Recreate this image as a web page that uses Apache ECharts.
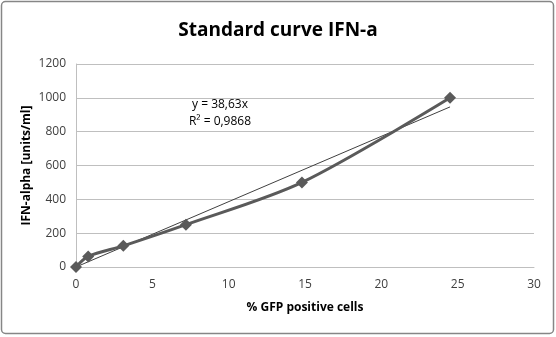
<!DOCTYPE html>
<html>
<head>
<meta charset="utf-8">
<script src="https://cdn.jsdelivr.net/npm/echarts@6/dist/echarts.min.js"></script>
<style>html,body{margin:0;padding:0;background:#fff}#c{width:556px;height:337px}</style>
</head>
<body>
<div id="c"></div>
<script>
var xValues = [0, 0.8, 3.1, 7.2, 14.8, 24.5];
var yValues = [0, 62.5, 125, 250, 500, 1000];
var trendSlope = 38.63;
var trendX = [0, 24.5];
var xTicks = [0, 5, 10, 15, 20, 25, 30];
var yTicks = [0, 200, 400, 600, 800, 1000, 1200];
var titleText = 'Standard curve IFN-a';
var xName = '% GFP positive cells';
var yName = 'IFN-alpha [units/ml]';
var eqLines = ['y = 38,63x', 'R\u00B2 = 0,9868'];

var dataPts = xValues.map(function (x, i) { return [x, yValues[i]]; });
var trendPts = trendX.map(function (x) { return [x, trendSlope * x]; });
var font = '"Open Sans", "Liberation Sans", sans-serif';

var chart = echarts.init(document.getElementById('c'), null, {renderer: 'canvas'});
chart.setOption({
  animation: false,
  backgroundColor: '#fff',
  title: {
    text: titleText, left: 'center', top: 16,
    textStyle: {fontFamily: font, fontWeight: 'bold', fontSize: 19, color: '#000'}
  },
  grid: {left: 76, right: 22, top: 64, bottom: 70},
  xAxis: {
    type: 'value', min: xTicks[0], max: xTicks[xTicks.length - 1], interval: 5,
    name: xName, nameLocation: 'middle', nameGap: 35, nameMoveOverlap: false,
    nameTextStyle: {fontFamily: font, fontWeight: 'bold', fontSize: 12, color: '#000'},
    axisLine: {show: true, lineStyle: {color: '#bfbfbf', width: 1}},
    axisTick: {show: false},
    splitLine: {show: false},
    axisLabel: {fontFamily: font, fontSize: 12, color: '#404040', margin: 12,
                formatter: function (v) { return String(v); }}
  },
  yAxis: {
    type: 'value', min: yTicks[0], max: yTicks[yTicks.length - 1], interval: 200,
    name: yName, nameLocation: 'middle', nameGap: 43, nameMoveOverlap: false,
    nameTextStyle: {fontFamily: font, fontWeight: 'bold', fontSize: 12, color: '#000'},
    axisLine: {show: true, lineStyle: {color: '#bfbfbf', width: 1}},
    axisTick: {show: false},
    splitLine: {show: true, lineStyle: {color: '#bfbfbf', width: 1}},
    axisLabel: {fontFamily: font, fontSize: 12, color: '#404040', margin: 10,
                formatter: function (v) { return String(v); }}
  },
  series: [
    {
      type: 'line', data: trendPts, symbol: 'none', smooth: false,
      lineStyle: {color: '#404040', width: 1}, z: 2
    },
    {
      type: 'line', data: dataPts, smooth: 0.3,
      symbol: 'diamond', symbolSize: 12,
      itemStyle: {color: '#5a5a5a'},
      lineStyle: {color: '#5a5a5a', width: 3}, z: 3
    }
  ],
  graphic: [
    {
      type: 'rect', shape: {x: 1.5, y: 1.5, width: 552, height: 332, r: 4},
      style: {fill: 'none', stroke: '#868686', lineWidth: 1.5}, silent: true
    },
    {
      type: 'text', x: 220, y: 96,
      style: {text: eqLines.join('\n'), fontFamily: font, fontSize: 12, fill: '#000',
              align: 'center', verticalAlign: 'top', lineHeight: 17}
    }
  ]
});
</script>
</body>
</html>
